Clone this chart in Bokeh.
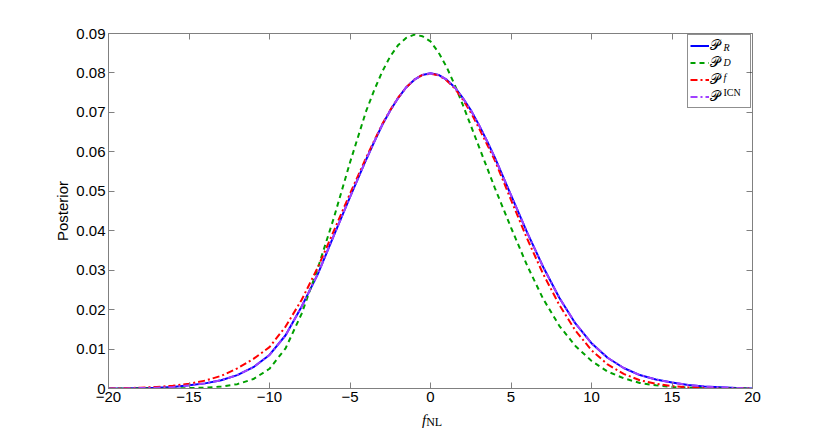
from bokeh.plotting import figure
from bokeh.models import (Range1d, LinearAxis, FixedTicker, NumeralTickFormatter,
                          CustomJSTickFormatter, Label, Legend, LegendItem, Div)
from bokeh.layouts import column
from bokeh.embed import file_html
from bokeh.resources import INLINE

# ---- data ----
f_nl = [-20, -19, -18, -17, -16, -15, -14, -13, -12, -11, -10, -9, -8, -7, -6, -5, -4,
        -3.5, -3, -2.5, -2, -1.5, -1, -0.5, 0, 0.5, 1, 1.5, 2, 2.5, 3, 3.5,
        4, 5, 6, 7, 8, 9, 10, 11, 12, 13, 14, 15, 16, 17, 18, 19, 20]

post_R = [0.0000, 0.0000, 0.0001, 0.0002, 0.0004, 0.0008, 0.0013, 0.0021, 0.0034, 0.0054,
          0.0085, 0.0135, 0.0208, 0.0290, 0.0388, 0.0485, 0.0580,
          0.0625, 0.0668, 0.0705, 0.0737, 0.0764, 0.0783, 0.0795, 0.0799, 0.0795, 0.0783,
          0.0764, 0.0737, 0.0706, 0.0669, 0.0628,
          0.0585, 0.0490, 0.0396, 0.0308, 0.0230, 0.0165, 0.0115, 0.0078, 0.0052, 0.0034,
          0.0023, 0.0015, 0.0009, 0.0005, 0.0003, 0.0001, 0.0000]

post_D = [0.0000, 0.0000, 0.0000, 0.0000, 0.0000, 0.0001, 0.0002, 0.0005, 0.0011, 0.0024,
          0.0050, 0.0102, 0.0190, 0.0305, 0.0433, 0.0573, 0.0703,
          0.0756, 0.0803, 0.0842, 0.0871, 0.0889, 0.0897, 0.0893, 0.0880, 0.0852, 0.0815,
          0.0770, 0.0720, 0.0667, 0.0614, 0.0561,
          0.0508, 0.0408, 0.0312, 0.0227, 0.0159, 0.0108, 0.0070, 0.0043, 0.0026, 0.0014,
          0.0008, 0.0004, 0.0002, 0.0001, 0.0000, 0.0000, 0.0000]

post_f = [0.0000, 0.0001, 0.0002, 0.0004, 0.0007, 0.0012, 0.0020, 0.0032, 0.0051, 0.0075,
          0.0105, 0.0157, 0.0225, 0.0307, 0.0400, 0.0494, 0.0585,
          0.0628, 0.0670, 0.0706, 0.0738, 0.0764, 0.0783, 0.0795, 0.0798, 0.0794, 0.0781,
          0.0761, 0.0733, 0.0700, 0.0661, 0.0620,
          0.0578, 0.0478, 0.0380, 0.0290, 0.0212, 0.0147, 0.0097, 0.0061, 0.0037, 0.0021,
          0.0012, 0.0006, 0.0003, 0.0001, 0.0000, 0.0000, 0.0000]

post_ICN = [0.0000, 0.0000, 0.0001, 0.0002, 0.0004, 0.0008, 0.0013, 0.0021, 0.0034, 0.0054,
            0.0085, 0.0135, 0.0208, 0.0290, 0.0388, 0.0485, 0.0580,
            0.0625, 0.0668, 0.0705, 0.0737, 0.0764, 0.0783, 0.0795, 0.0799, 0.0795, 0.0783,
            0.0764, 0.0737, 0.0706, 0.0669, 0.0628,
            0.0585, 0.0490, 0.0396, 0.0308, 0.0230, 0.0165, 0.0115, 0.0078, 0.0052, 0.0034,
            0.0023, 0.0015, 0.0009, 0.0005, 0.0003, 0.0001, 0.0000]

x_ticks = [-20, -15, -10, -5, 0, 5, 10, 15, 20]
y_ticks = [0, 0.01, 0.02, 0.03, 0.04, 0.05, 0.06, 0.07, 0.08, 0.09]
legend_main = ["\U0001D4AB", "\U0001D4AB", "\U0001D4AB", "\U0001D4AB"]
legend_sub = ["R", "D", "f", "ICN"]
x_label_main = "f"
x_label_sub = "NL"
y_label = "Posterior"

# ---- figure ----
p = figure(width=830, height=412, output_backend="svg", toolbar_location=None,
           x_range=Range1d(-20, 20), y_range=Range1d(0, 0.09),
           min_border_left=108, min_border_right=78, min_border_top=33,
           min_border_bottom=24)
p.grid.visible = False
p.outline_line_color = "#808080"
p.background_fill_color = "white"
p.border_fill_color = "white"

AX = "#808080"
TICK_FONT = "Liberation Sans"


def style_axis(ax, labels=True):
    ax.axis_line_color = AX
    ax.major_tick_line_color = AX
    ax.major_tick_in = 6
    ax.major_tick_out = 0
    ax.minor_tick_line_color = None
    ax.major_label_text_font = TICK_FONT
    ax.major_label_text_color = "black"
    ax.major_label_text_font_size = "15px"
    if labels:
        ax.major_label_standoff = 3
    else:
        ax.formatter = CustomJSTickFormatter(code="return ''")
        ax.major_label_standoff = 0


xa = p.xaxis[0]
xa.ticker = FixedTicker(ticks=x_ticks)
style_axis(xa)

ya = p.yaxis[0]
ya.ticker = FixedTicker(ticks=y_ticks)
ya.formatter = NumeralTickFormatter(format="0.[00]")
style_axis(ya)
ya.axis_label = y_label
ya.axis_label_text_font = TICK_FONT
ya.axis_label_text_font_size = "15px"
ya.axis_label_text_font_style = "normal"
ya.axis_label_text_color = "black"
ya.axis_label_standoff = 2

top = LinearAxis(ticker=FixedTicker(ticks=x_ticks))
style_axis(top, labels=False)
p.add_layout(top, "above")
right = LinearAxis(ticker=FixedTicker(ticks=y_ticks))
style_axis(right, labels=False)
p.add_layout(right, "right")

# ---- curves ----
rR = p.line(f_nl, post_R, line_color="#0000ff", line_width=2)
rD = p.line(f_nl, post_D, line_color="#00a000", line_width=2, line_dash="5 4")
rf = p.line(f_nl, post_f, line_color="#ff0000", line_width=2, line_dash="7 3 2 3")
rI = p.line(f_nl, post_ICN, line_color="#a040ff", line_width=2, line_dash="7 3 2 3")

# ---- legend ----
legend = Legend(items=[LegendItem(label=legend_main[i], renderers=[r])
                       for i, r in enumerate([rR, rD, rf, rI])],
                location="top_right", margin=1, padding=2, spacing=0,
                glyph_width=19, glyph_height=15, label_height=15, label_width=38,
                label_standoff=1, border_line_color="#202020", border_line_width=1,
                label_text_font="DejaVu Serif", label_text_font_size="14px",
                label_text_color="black", background_fill_alpha=0.0)
p.add_layout(legend)

# legend subscripts (canvas pixels, origin top-left)
sub_rows = [47, 62, 77, 92]
for i, sub in enumerate(legend_sub):
    italic = "italic" if sub in ("R", "D", "f") else "normal"
    p.add_layout(Label(x=723, y=sub_rows[i], x_units="canvas", y_units="canvas",
                       text=sub, text_font="Liberation Serif", text_font_size="10px",
                       text_font_style=italic, text_baseline="middle",
                       text_align="left", text_color="black"))

# ---- x label f_NL (below the figure) ----
xlabel = Div(
    text=('<div style="position:relative;left:417px;top:-6px;white-space:nowrap;'
          'color:black;font-family:\'Liberation Serif\';line-height:18px;">'
          '<span style="font-style:italic;font-size:15px;">' + x_label_main + '</span>'
          '<span style="font-size:12px;position:relative;top:1px;">' + x_label_sub +
          '</span></div>'),
    width=830, height=26)

layout = column(p, xlabel, spacing=0)
open("out.html", "w").write(file_html(layout, INLINE))
